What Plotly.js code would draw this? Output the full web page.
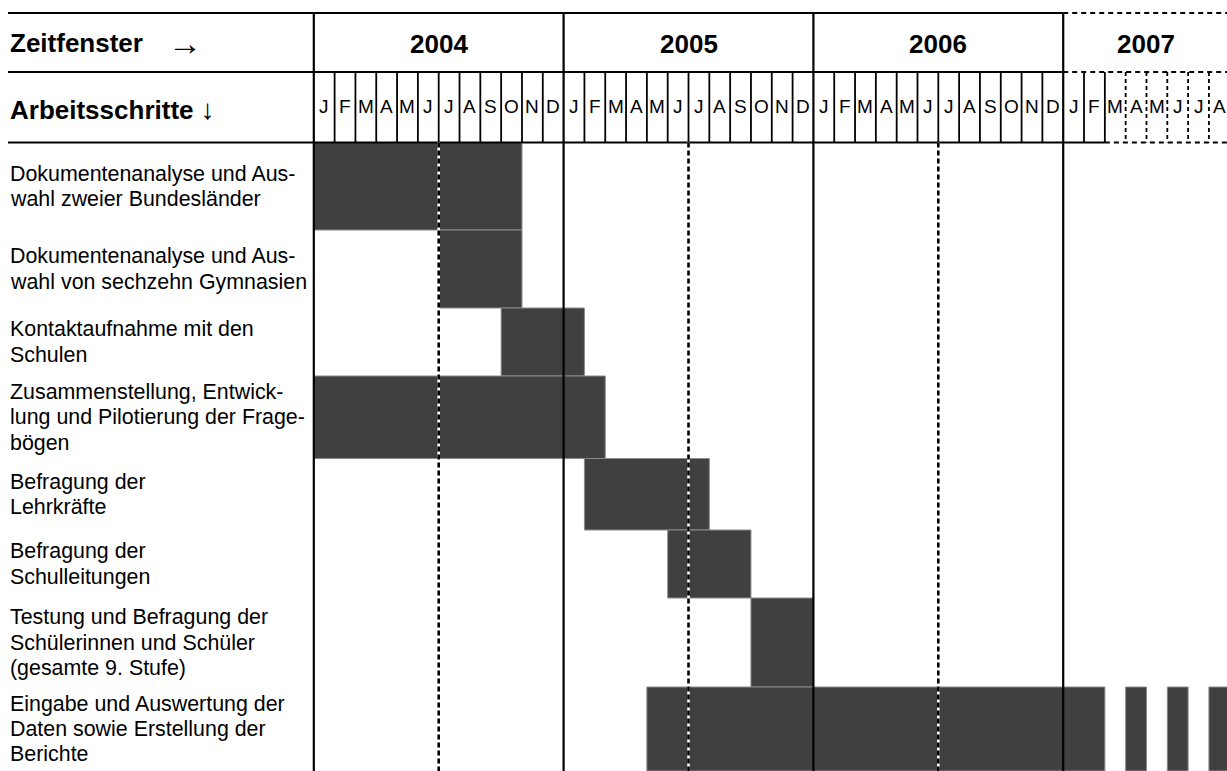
<!DOCTYPE html>
<html>
<head>
<meta charset="utf-8">
<script src="https://cdn.plot.ly/plotly-3.0.1.min.js"></script>
<style>html,body{margin:0;padding:0;background:#fff;}#chart{width:1227px;height:771px;}</style>
</head>
<body>
<div id="chart"></div>
<script>
// ---------------- DATA ----------------
const years = ["2004", "2005", "2006", "2007"];
const monthLetters = ["J","F","M","A","M","J","J","A","S","O","N","D"];
const tasks = [
  "Dokumentenanalyse und Aus-<br>wahl zweier Bundesländer",
  "Dokumentenanalyse und Aus-<br>wahl von sechzehn Gymnasien",
  "Kontaktaufnahme mit den<br>Schulen",
  "Zusammenstellung, Entwick-<br>lung und Pilotierung der Frage-<br>bögen",
  "Befragung der<br>Lehrkräfte",
  "Befragung der<br>Schulleitungen",
  "Testung und Befragung der<br>Schülerinnen und Schüler<br>(gesamte 9. Stufe)",
  "Eingabe und Auswertung der<br>Daten sowie Erstellung der<br>Berichte"
];
// month index: 0 = January 2004; end is exclusive
const taskStart = [0, 6, 9, 0, 13, 17, 21, 16];
const taskEnd   = [10, 10, 13, 14, 19, 21, 24, 38];
// planned continuation of the last task in 2007 (dashed pieces)
const extTask  = [7, 7, 7];
const extStart = [39, 41, 43];
const extEnd   = [40, 42, 44];
const visibleMonths2007 = 8; // J F M A M J J A
const solidMonths2007 = 2;   // J F drawn solid, rest dashed

// ---------------- LAYOUT GEOMETRY ----------------
const W = 1227, H = 771;
const X0 = -15.074, X1 = 43.868;          // month range across the page
const yTop = 13, yMid = 72, yHead = 142.5; // header rows
const rowEdges = [142.5, 230, 308, 376, 458.5, 530, 598, 687, 771];
const lineStep = 25.3;
const FONT = "Liberation Sans, Arial, Helvetica, sans-serif";
const totalMonths = 36 + visibleMonths2007;

const rowCenter = i => (rowEdges[i] + rowEdges[i + 1]) / 2;
const rowHeight = i => rowEdges[i + 1] - rowEdges[i];
const toPaper = m => (m - X0) / (X1 - X0);

// bars
const bY = [], bW = [], bBase = [], bLen = [];
tasks.forEach((t, i) => {
  bY.push(rowCenter(i)); bW.push(rowHeight(i));
  bBase.push(taskStart[i]); bLen.push(taskEnd[i] - taskStart[i]);
});
extTask.forEach((ti, k) => {
  bY.push(rowCenter(ti)); bW.push(rowHeight(ti));
  bBase.push(extStart[k]); bLen.push(extEnd[k] - extStart[k]);
});

const traces = [{
  type: "bar", orientation: "h",
  y: bY, width: bW, base: bBase, x: bLen,
  marker: { color: "#404040", line: { color: "#8a8a8a", width: 1 } },
  hoverinfo: "skip", showlegend: false
}];

// ---------------- SHAPES ----------------
const shapes = [];
const line = (x0, y0, x1, y1, w, dash, color) => shapes.push({
  type: "line", xref: "x", yref: "y", x0, y0, x1, y1,
  line: { color: color || "#000", width: w, dash: dash || "solid" }
});
const leftPaper = 8 / W;
// horizontal header lines
[yTop, yMid].forEach(y => {
  shapes.push({type:"line", xref:"paper", yref:"y", x0:leftPaper, x1:toPaper(36), y0:y, y1:y, line:{color:"#000", width:2.2}});
  line(36, y, X1, y, 2, "5px,4px");
});
shapes.push({type:"line", xref:"paper", yref:"y", x0:leftPaper, x1:toPaper(36 + solidMonths2007), y0:yHead, y1:yHead, line:{color:"#000", width:2.2}});
line(36 + solidMonths2007, yHead, X1, yHead, 2, "5px,4px");

// month dividers in header
for (let m = 1; m < totalMonths; m++) {
  if (m % 12 === 0) continue;
  const dashed = m > 36 + solidMonths2007;
  line(m, yMid, m, yHead, 1.8, dashed ? "4px,3px" : "solid");
}
// mid-year dashed lines in body (white underlay + black dashes)
for (let m = 6; m < 36; m += 12) {
  line(m, yHead, m, H, 2.6, "solid", "#fff");
  line(m, yHead, m, H, 2.6, "5px,3px");
}
// year lines
for (let m = 0; m <= 36; m += 12) line(m, yTop, m, H, 2.2);

// ---------------- ANNOTATIONS ----------------
const annotations = [];
const HF = 26;
annotations.push({xref:"paper", yref:"y", x:8/W, y:(yTop+yMid)/2, xanchor:"left", yanchor:"middle",
  text:"<b>Zeitfenster</b>", showarrow:false, font:{family:FONT, size:HF, color:"#000"}});
annotations.push({xref:"paper", yref:"y", x:166/W, y:(yTop+yMid)/2, xanchor:"left", yanchor:"middle",
  text:"→", showarrow:false, font:{family:FONT, size:34, color:"#000"}});
annotations.push({xref:"paper", yref:"y", x:8/W, y:(yMid+yHead)/2 + 2, xanchor:"left", yanchor:"middle",
  text:"<b>Arbeitsschritte</b> <span style='font-size:28px'>↓</span>", showarrow:false, font:{family:FONT, size:HF, color:"#000"}});
years.forEach((yr, k) => {
  const cx = k < 3 ? k * 12 + 6 : 36 + visibleMonths2007 / 2;
  annotations.push({xref:"x", yref:"y", x:cx, y:(yTop+yMid)/2 + 1, xanchor:"center", yanchor:"middle",
    text:"<b>" + yr + "</b>", showarrow:false, font:{family:FONT, size:HF, color:"#000"}});
});
for (let m = 0; m < totalMonths; m++) {
  annotations.push({xref:"x", yref:"y", x:m + 0.5, y:(yMid+yHead)/2 - 1, xanchor:"center", yanchor:"middle",
    text:monthLetters[m % 12], showarrow:false, font:{family:FONT, size:19, color:"#000"}});
}
tasks.forEach((t, i) => {
  const parts = t.split("<br>");
  parts.forEach((p, j) => {
    annotations.push({xref:"paper", yref:"y", x:8/W, y:rowCenter(i) + (j - (parts.length - 1) / 2) * lineStep,
      xanchor:"left", yanchor:"middle", align:"left",
      text:p, showarrow:false, font:{family:FONT, size:21.4, color:"#000"}});
  });
});

const layout = {
  width: W, height: H,
  margin: {l:0, r:0, t:0, b:0, pad:0},
  paper_bgcolor: "#fff", plot_bgcolor: "#fff",
  xaxis: {range:[X0, X1], visible:false, fixedrange:true},
  yaxis: {range:[H, 0], visible:false, fixedrange:true},
  showlegend: false,
  shapes, annotations
};
Plotly.newPlot("chart", traces, layout, {staticPlot:true, displayModeBar:false});
</script>
</body>
</html>
